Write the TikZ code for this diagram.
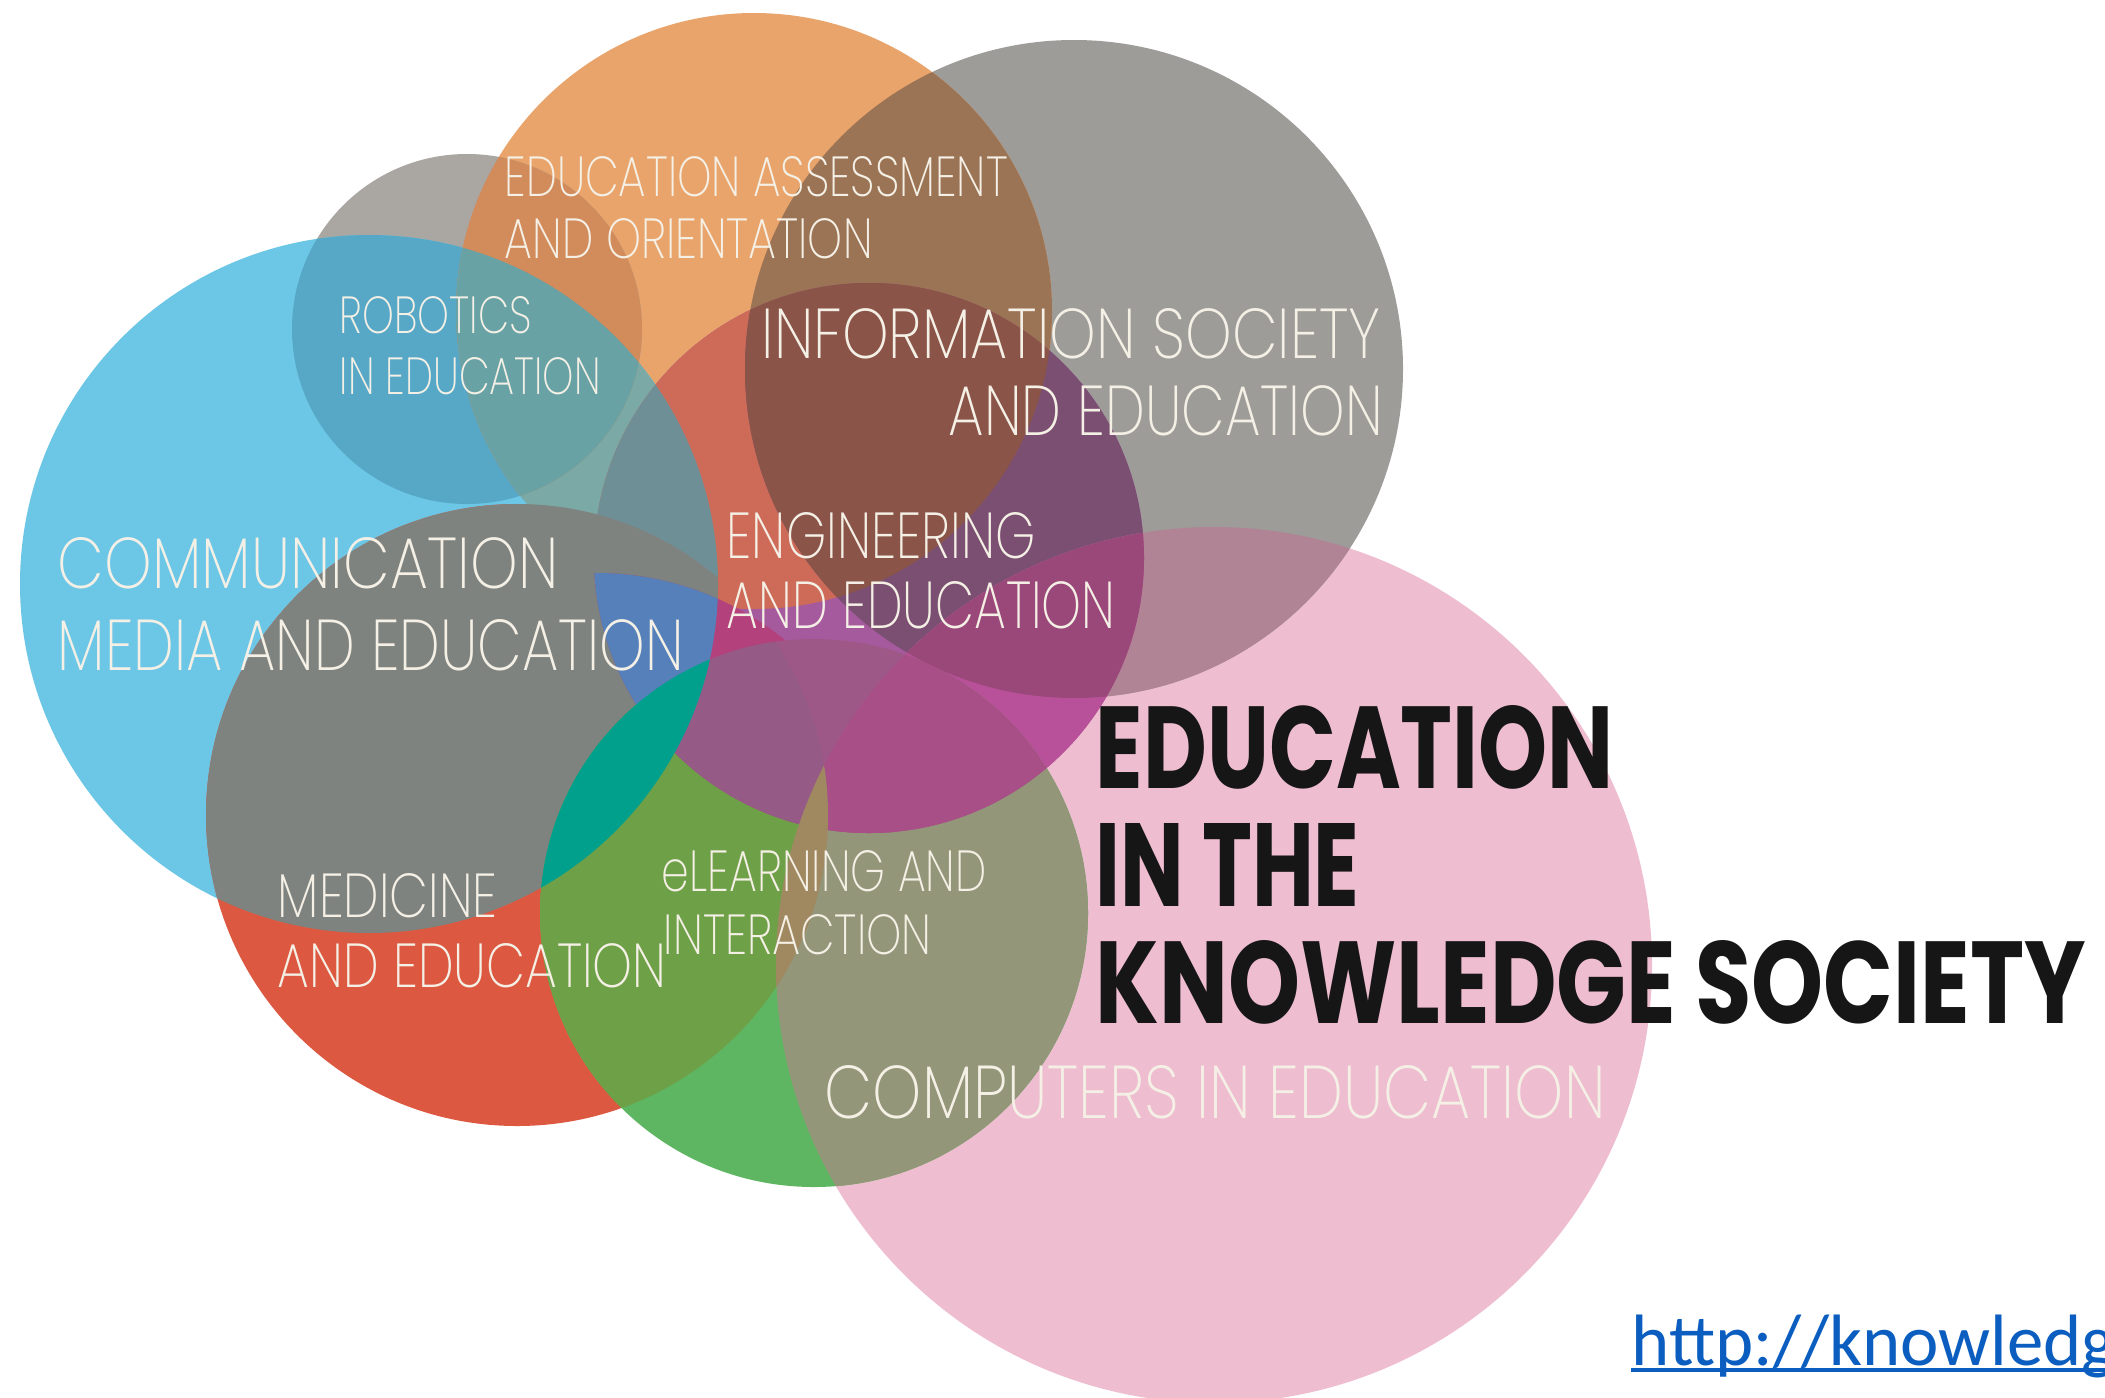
\documentclass[tikz,border=0pt]{standalone}
\usepackage{graphicx}
\usepackage{fontspec}
\IfFontExistsTF{Poppins ExtraLight}{\newfontfamily\thinfont{Poppins ExtraLight}}{%
  \IfFontExistsTF{Poppins Light}{\newfontfamily\thinfont{Poppins Light}}{%
    \IfFontExistsTF{Lato Light}{\newfontfamily\thinfont{Lato Light}}{\newfontfamily\thinfont{Poppins}}}}
\IfFontExistsTF{Poppins Bold}{\newfontfamily\titlefont{Poppins Bold}}{\newfontfamily\titlefont{Poppins}[FakeBold=2]}
\newfontfamily\urlfont{Carlito}

% plain circles
\definecolor{commblue}{HTML}{6CC6E6}
\definecolor{robotgray}{HTML}{AAA6A2}
\definecolor{assessorange}{HTML}{E9A46B}
\definecolor{infogray}{HTML}{9D9C98}
\definecolor{engviolet}{HTML}{A65A9E}
\definecolor{medred}{HTML}{DD5840}
\definecolor{elgreen}{HTML}{5FB662}
\definecolor{comppink}{HTML}{EEBDD0}
% two circles
\definecolor{blueRobot}{HTML}{56A8C6}
\definecolor{blueAssess}{HTML}{7AA9A6}
\definecolor{robotAssess}{HTML}{D28B5A}
\definecolor{assessInfo}{HTML}{9B7355}
\definecolor{assessEng}{HTML}{CD6A58}
\definecolor{infoEng}{HTML}{7B4F71}
\definecolor{infoPink}{HTML}{B08494}
\definecolor{engPink}{HTML}{B9519A}
\definecolor{blueEng}{HTML}{6F8F97}
\definecolor{blueMed}{HTML}{7F837F}
\definecolor{medGreen}{HTML}{6EA047}
\definecolor{greenPink}{HTML}{939678}
\definecolor{engMed}{HTML}{B3417C}
\definecolor{engGreen}{HTML}{9E5888}
% three circles
\definecolor{blueRobotAssess}{HTML}{68A2A5}
\definecolor{assessInfoEng}{HTML}{8A5448}
\definecolor{infoEngPink}{HTML}{9A4879}
\definecolor{engGreenPink}{HTML}{A94F87}
\definecolor{blueMedGreen}{HTML}{00A08D}
\definecolor{medGreenPink}{HTML}{A08860}
\definecolor{engMedGreen}{HTML}{955A85}
\definecolor{blueEngMed}{HTML}{5580BA}
\definecolor{labeltext}{HTML}{F5F0E6}
\definecolor{titleblack}{HTML}{161616}
\definecolor{linkblue}{HTML}{0B5EC0}

\newcommand{\blueC}{(3.69,-5.84) circle (3.49)}
\newcommand{\robotC}{(4.67,-3.29) circle (1.75)}
\newcommand{\orangeC}{(7.54,-3.11) circle (2.98)}
\newcommand{\infoC}{(10.74,-3.69) circle (3.29)}
\newcommand{\engC}{(8.69,-5.58) circle (2.75)}
\newcommand{\medC}{(5.17,-8.15) circle (3.11)}
\newcommand{\medtopC}{(5.96,-8.73) circle (3.00)}
\newcommand{\greenC}{(8.14,-9.13) circle (2.74)}
\newcommand{\pinkC}{(12.14,-9.65) circle (4.38)}

\newcommand{\overlap}[3]{\begin{scope}\clip #1;\fill[#3] #2;\end{scope}}
\newcommand{\overlapiii}[4]{\begin{scope}\clip #1;\clip #2;\fill[#4] #3;\end{scope}}
\newcommand{\fitlbl}[3]{\resizebox{#1cm}{#2cm}{#3}}

\begin{document}
\begin{tikzpicture}[lbl/.style={anchor=base west, inner sep=0pt, text=labeltext, font=\thinfont},
    big/.style={anchor=base west, inner sep=0pt, text=titleblack, font=\titlefont}]
  \fill[white] (0,0) rectangle (21.05,-13.97);
  \useasboundingbox (0,0) rectangle (21.05,-13.97);

  \fill[comppink] \pinkC;
  \fill[infogray] \infoC;
  \fill[assessorange] \orangeC;
  \fill[robotgray] \robotC;
  \fill[commblue] \blueC;
  \fill[medred] \medC;
  \fill[elgreen] \greenC;
  \fill[engviolet] \engC;

  \overlap{\blueC}{\robotC}{blueRobot}
  \overlap{\blueC}{\orangeC}{blueAssess}
  \overlap{\robotC}{\orangeC}{robotAssess}
  \overlap{\orangeC}{\infoC}{assessInfo}
  \overlap{\orangeC}{\engC}{assessEng}
  \overlap{\infoC}{\engC}{infoEng}
  \overlap{\infoC}{\pinkC}{infoPink}
  \overlap{\engC}{\pinkC}{engPink}
  \overlap{\blueC}{\engC}{blueEng}
  \overlap{\blueC}{\medC}{blueMed}
  \overlap{\medC}{\greenC}{medGreen}
  \overlap{\greenC}{\pinkC}{greenPink}
  \overlap{\engC}{\medtopC}{engMed}
  \overlap{\engC}{\greenC}{engGreen}

  \overlapiii{\blueC}{\robotC}{\orangeC}{blueRobotAssess}
  \overlapiii{\orangeC}{\infoC}{\engC}{assessInfoEng}
  \overlapiii{\infoC}{\engC}{\pinkC}{infoEngPink}
  \overlapiii{\engC}{\greenC}{\pinkC}{engGreenPink}
  \overlapiii{\engC}{\medC}{\greenC}{engMedGreen}
  \overlapiii{\blueC}{\engC}{\medtopC}{blueEngMed}
  \overlapiii{\blueC}{\medC}{\greenC}{blueMedGreen}
  \overlapiii{\medC}{\greenC}{\pinkC}{medGreenPink}

  % circle labels
  \node[lbl] (assessA) at (5.04,-1.96) {\fitlbl{5.03}{0.40}{EDUCATION ASSESSMENT}};
  \node[lbl] (assessB) at (5.04,-2.58) {\fitlbl{3.68}{0.40}{AND ORIENTATION}};
  \node[lbl] (robotA) at (3.39,-3.33) {\fitlbl{1.92}{0.37}{ROBOTICS}};
  \node[lbl] (robotB) at (3.39,-3.94) {\fitlbl{2.61}{0.37}{IN EDUCATION}};
  \node[lbl] (infoA) at (7.61,-3.58) {\fitlbl{6.19}{0.50}{INFORMATION SOCIETY}};
  \node[lbl] (infoB) at (9.48,-4.35) {\fitlbl{4.34}{0.50}{AND EDUCATION}};
  \node[lbl] (commA) at (0.57,-5.88) {\fitlbl{5.01}{0.51}{COMMUNICATION}};
  \node[lbl] (commB) at (0.57,-6.70) {\fitlbl{6.26}{0.51}{MEDIA AND EDUCATION}};
  \node[lbl] (engA) at (7.26,-5.58) {\fitlbl{3.09}{0.46}{ENGINEERING}};
  \node[lbl] (engB) at (7.26,-6.28) {\fitlbl{3.89}{0.47}{AND EDUCATION}};
  \node[lbl] (medA) at (2.77,-9.17) {\fitlbl{2.20}{0.44}{MEDICINE}};
  \node[lbl] (medB) at (2.77,-9.87) {\fitlbl{3.89}{0.44}{AND EDUCATION}};
  \node[lbl] (elA) at (6.61,-8.91) {\fitlbl{3.25}{0.41}{eLEARNING AND}};
  \node[lbl] (elB) at (6.63,-9.54) {\fitlbl{2.68}{0.40}{INTERACTION}};
  \node[lbl] (comp) at (8.24,-11.18) {\fitlbl{7.81}{0.53}{COMPUTERS IN EDUCATION}};

  % title
  \node[big] (titleA) at (10.95,-7.88) {\fitlbl{5.18}{0.83}{EDUCATION}};
  \node[big] (titleB) at (10.95,-9.06) {\fitlbl{2.64}{0.83}{IN THE}};
  \node[big] (titleC) at (10.95,-10.23) {\fitlbl{9.90}{0.83}{KNOWLEDGE SOCIETY}};

  \node[anchor=base west, inner sep=0pt, text=linkblue, font=\urlfont\fontsize{20.7}{25}\selectfont] (url) at (16.31,-13.65) {http://knowledg};
  \draw[linkblue, line width=0.9pt] ([yshift=-0.05cm]url.base west) -- ([yshift=-0.05cm]url.base east);
\end{tikzpicture}
\end{document}
